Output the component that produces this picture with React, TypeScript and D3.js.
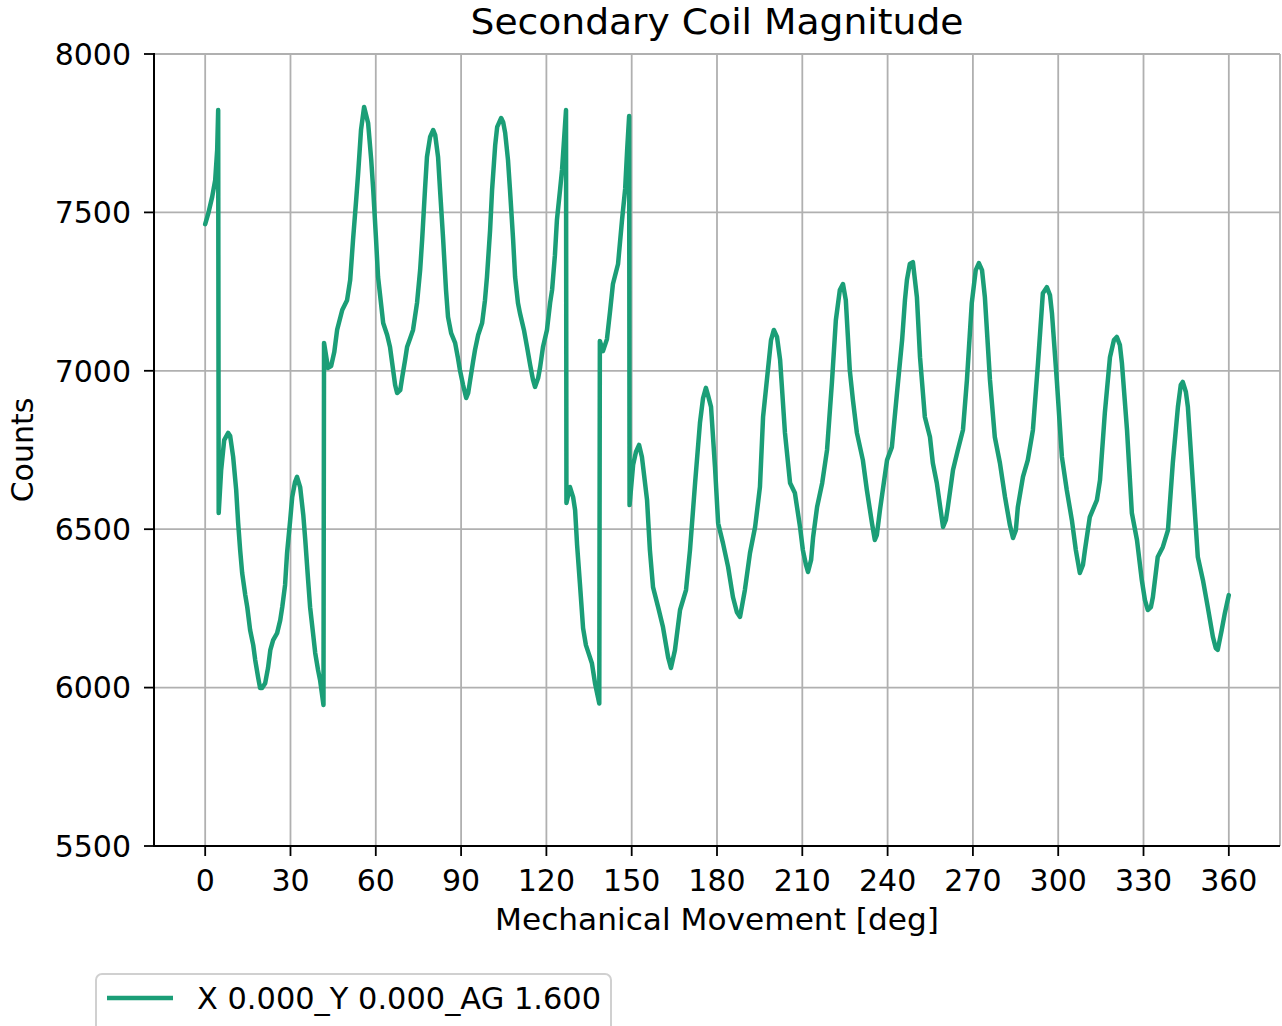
import React from "react";
import * as d3 from "d3";

const title = "Secondary Coil Magnitude";
const xLabel = "Mechanical Movement [deg]";
const yLabel = "Counts";
const seriesName = "X 0.000_Y 0.000_AG 1.600";
const xTicks = [0, 30, 60, 90, 120, 150, 180, 210, 240, 270, 300, 330, 360];
const yTicks = [5500, 6000, 6500, 7000, 7500, 8000];

const degrees = [
  0, 1.05, 2.46, 3.52, 4.22, 4.57, 4.75,
  5.62, 6.68, 8.09, 8.79, 9.84, 10.9, 11.6, 12.3, 13.0, 14.1, 14.8, 15.8, 16.9, 17.6, 18.6, 19.3, 20.0,
  21.1, 22.1, 22.9, 23.9, 25.3, 26.4, 27.1, 28.1, 28.8, 29.9, 30.6, 31.6, 32.3, 33.4, 34.5, 35.2, 36.2,
  36.9, 38.0, 38.7, 39.7, 40.4, 41.6, 41.8,
  43.2, 44.3, 45.4, 46.4, 48.2, 49.9, 51.0, 52.0, 53.1, 53.8, 54.8, 55.9, 56.6, 57.3, 58.4, 59.1, 60.1,
  60.8, 61.9, 62.6, 64.0, 65.0, 66.1, 66.8, 67.5, 68.6, 69.3, 70.3, 71.0, 72.1, 73.1, 74.5, 75.6, 76.3,
  77.3, 78.0, 79.1, 80.2, 80.9, 81.9, 82.6, 83.7, 84.7, 85.4, 86.5, 87.9, 88.9, 89.6, 90.7, 91.8, 92.5,
  93.2, 94.2, 94.9, 96.0, 97.4, 98.4, 99.1, 100.2, 100.9, 102.0, 102.7, 104.1, 104.8, 105.5, 106.5,
  107.2, 108.3, 109.0, 110.0, 110.7, 112.1, 113.2, 114.3, 115.3, 116.0, 117.1, 117.8, 118.8, 120.2,
  121.3, 122.0, 123.0, 123.7, 124.8, 125.5, 126.2, 126.9, 127.05,
  128.3, 129.4, 130.1, 130.8, 131.8, 132.9, 133.9, 134.6, 136.0, 137.1, 138.6, 138.8,
  139.9, 141.3, 142.4, 143.4, 145.2, 146.6, 147.7, 148.4, 149.1, 149.25,
  150.5, 151.5, 152.6, 153.6, 155.4, 156.4, 157.5, 159.3, 161.0, 162.8, 163.8, 165.2, 167.0, 169.1,
  170.5, 172.3, 174.0, 175.1, 176.1, 176.8, 177.9, 179.3, 180.4, 182.1, 183.9, 185.6, 187.0, 188.1,
  189.8, 191.6, 193.4, 195.1, 196.2, 197.9, 199.0, 200.0, 201.1, 202.2, 203.9, 205.7, 207.4, 209.2,
  210.2, 211.3, 212.0, 213.1, 213.8, 215.2, 217.0, 218.7, 220.4, 221.8, 223.2, 224.3, 225.3, 226.7,
  227.8, 229.2, 231.3, 232.7, 234.5, 235.5, 236.2, 237.3, 239.8, 241.5, 243.3, 245.1, 246.1, 246.8,
  247.8, 248.9, 250.3, 251.4, 253.1, 254.9, 255.9, 257.3, 258.4, 259.5, 260.5, 261.2, 263.0, 264.7,
  266.5, 267.9, 269.6, 271.0, 272.1, 273.2, 274.2, 276.0, 277.7, 279.5, 281.3, 283.0, 284.1, 285.1,
  285.8, 287.6, 289.3, 291.1, 292.9, 294.6, 296.0, 297.1, 297.8, 299.5, 301.3, 303.0, 304.8, 306.2,
  307.6, 308.7, 309.4, 311.1, 313.6, 314.7, 316.4, 318.2, 319.6, 320.6, 321.7, 322.4, 324.2, 325.9,
  327.7, 329.4, 330.5, 331.5, 332.6, 333.3, 335.0, 336.8, 338.6, 340.3, 342.1, 343.1, 343.8, 344.9,
  345.6, 347.3, 349.1, 350.9, 352.6, 354.4, 355.4, 356.1, 357.5, 358.6, 360.0,
];

const counts = [
  7463, 7495, 7549, 7602, 7697, 7823, 6551,
  6687, 6781, 6804, 6794, 6728, 6624, 6519, 6434, 6362, 6292, 6254, 6182, 6134, 6087, 6033, 5999, 5999,
  6014, 6062, 6118, 6150, 6172, 6213, 6254, 6324, 6425, 6529, 6601, 6649, 6665, 6633, 6545, 6466, 6339,
  6254, 6166, 6109, 6055, 6024, 5945, 7088,
  7009, 7015, 7059, 7129, 7192, 7223, 7287, 7413, 7539, 7624, 7760, 7833, 7807, 7782, 7665, 7571, 7413,
  7296, 7208, 7151, 7113, 7075, 7002, 6955, 6930, 6939, 6980, 7034, 7075, 7103, 7129, 7214, 7318, 7413,
  7571, 7675, 7738, 7760, 7744, 7675, 7571, 7413, 7255, 7170, 7119, 7088, 7040, 7002, 6955, 6914, 6930,
  6971, 7028, 7066, 7113, 7151, 7223, 7296, 7444, 7571, 7713, 7770, 7798, 7785, 7751, 7665,
  7571, 7413, 7296, 7214, 7182, 7129, 7075, 7018, 6971, 6949, 6977, 7012, 7075, 7129,
  7214, 7255, 7365, 7476, 7571, 7634, 7728, 7823, 6583,
  6633, 6601, 6560, 6450, 6327, 6188, 6134, 6115, 6077, 6014, 5950, 7094,
  7062, 7100, 7189, 7274, 7337, 7476, 7574, 7697, 7804, 6576,
  6703, 6744, 6766, 6728, 6592, 6434, 6317, 6254, 6191, 6096, 6062, 6118, 6245, 6308,
  6434, 6646, 6835, 6914, 6946, 6924, 6886, 6696, 6519, 6456, 6381, 6286, 6238, 6223,
  6308, 6425, 6507, 6633, 6854, 7002, 7097, 7129, 7107, 7034, 6804, 6646, 6614, 6507,
  6434, 6387, 6365, 6403, 6475, 6570, 6646, 6750, 6961, 7160, 7255, 7274, 7223, 7002,
  6908, 6804, 6718, 6624, 6519, 6466, 6481, 6560, 6718, 6759, 6930, 7097, 7223, 7287,
  7337, 7343, 7233, 7043, 6854, 6791, 6709, 6646, 6576, 6507, 6529, 6570, 6687, 6750,
  6813, 6971, 7214, 7318, 7340, 7318, 7233, 6971, 6791, 6709, 6601, 6513, 6472, 6497,
  6570, 6665, 6718, 6813, 7025, 7245, 7264, 7239, 7182, 6971, 6728, 6624, 6529, 6434,
  6362, 6387, 6434, 6538, 6592, 6655, 6867, 7043, 7097, 7107, 7081, 7025, 6813, 6551,
  6466, 6339, 6276, 6245, 6254, 6286, 6412, 6444, 6497, 6709, 6886, 6955, 6965, 6933,
  6886, 6655, 6412, 6339, 6254, 6160, 6125, 6119, 6182, 6235, 6292,
];

const W = 1282;
const H = 1026;
const M = { left: 154, right: 1280, top: 54, bottom: 846 };
const FONT = "'DejaVu Sans', sans-serif";
const LINE_COLOR = "#1b9e77";
const GRID = "#b0b0b0";

export default function App() {
  const x = d3.scaleLinear().domain([-18, 378]).range([M.left, M.right]);
  const y = d3.scaleLinear().domain([5500, 8000]).range([M.bottom, M.top]);
  const pts: [number, number][] = degrees.map((d, i) => [d, counts[i]]);
  const line = d3
    .line<[number, number]>()
    .x((d) => x(d[0]))
    .y((d) => y(d[1]));
  const cx = (M.left + M.right) / 2;
  const cy = (M.top + M.bottom) / 2;

  return (
    <svg
      width={W}
      height={H}
      style={{ position: "absolute", left: 0, top: 0, background: "#fff" }}
      fontFamily={FONT}
    >
      <rect x={0} y={0} width={W} height={H} fill="#fff" />
      {xTicks.map((t) => (
        <line key={"gx" + t} x1={x(t)} x2={x(t)} y1={M.top} y2={M.bottom} stroke={GRID} strokeWidth={1.8} />
      ))}
      {yTicks.map((t) => (
        <line key={"gy" + t} x1={M.left} x2={M.right} y1={y(t)} y2={y(t)} stroke={GRID} strokeWidth={1.8} />
      ))}
      <line x1={M.right} x2={M.right} y1={M.top} y2={M.bottom} stroke={GRID} strokeWidth={1.8} />
      <path d={line(pts) || ""} fill="none" stroke={LINE_COLOR} strokeWidth={4.5} strokeLinejoin="round" strokeLinecap="round" />
      <line x1={M.left} x2={M.left} y1={M.top - 1} y2={M.bottom + 1} stroke="#000" strokeWidth={2} />
      <line x1={M.left - 1} x2={M.right} y1={M.bottom} y2={M.bottom} stroke="#000" strokeWidth={2} />
      {yTicks.map((t) => (
        <g key={"ty" + t}>
          <line x1={M.left - 10} x2={M.left} y1={y(t)} y2={y(t)} stroke="#000" strokeWidth={1.8} />
          <text x={131} y={y(t)} dy="0.36em" textAnchor="end" fontSize={30} fill="#000">
            {t}
          </text>
        </g>
      ))}
      {xTicks.map((t) => (
        <g key={"tx" + t}>
          <line x1={x(t)} x2={x(t)} y1={M.bottom} y2={M.bottom + 10} stroke="#000" strokeWidth={1.8} />
          <text x={x(t)} y={891} textAnchor="middle" fontSize={30} fill="#000">
            {t}
          </text>
        </g>
      ))}
      <text x={cx} y={930} textAnchor="middle" fontSize={30} fill="#000" textLength={444} lengthAdjust="spacingAndGlyphs">
        {xLabel}
      </text>
      <text transform={`translate(33, ${cy}) rotate(-90)`} textAnchor="middle" fontSize={30} fill="#000">
        {yLabel}
      </text>
      <text x={cx} y={34} textAnchor="middle" fontSize={36} fill="#000" textLength={493} lengthAdjust="spacingAndGlyphs">
        {title}
      </text>
      <rect x={96} y={974} width={515} height={64} rx={6} ry={6} fill="#fff" fillOpacity={0.8} stroke="#d0d0d0" strokeWidth={2} />
      <line x1={107} x2={173} y1={998} y2={998} stroke={LINE_COLOR} strokeWidth={4.5} />
      <text x={197} y={1009} fontSize={30} fill="#000" textLength={404} lengthAdjust="spacingAndGlyphs">
        {seriesName}
      </text>
    </svg>
  );
}
